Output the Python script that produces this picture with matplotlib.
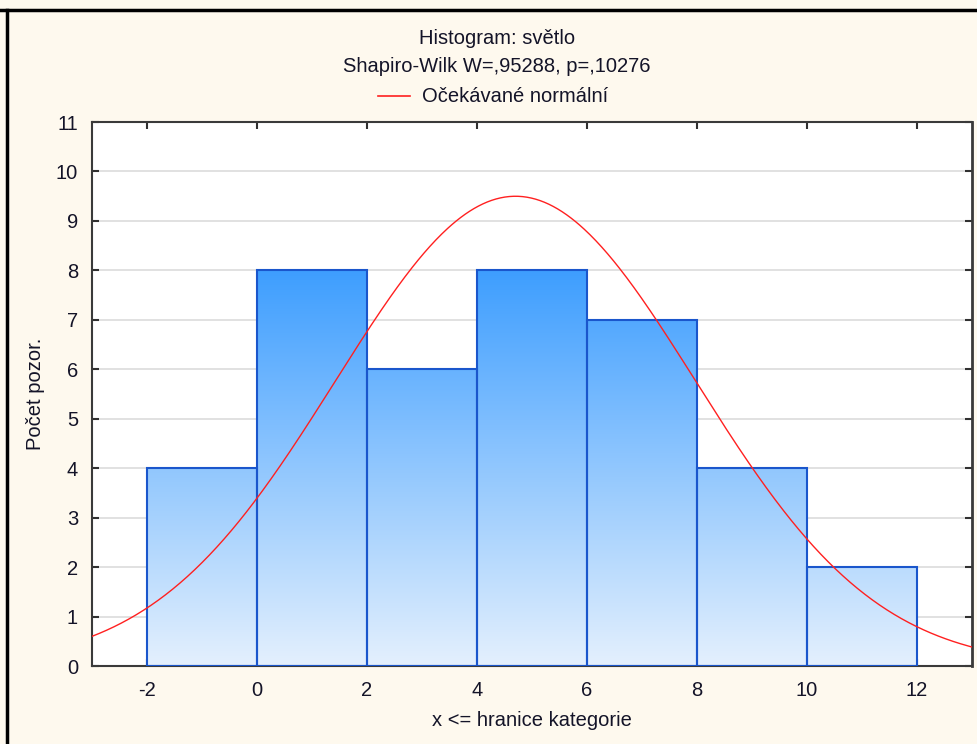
import numpy as np
import matplotlib
matplotlib.use("Agg")
import matplotlib.pyplot as plt
from matplotlib.patches import Rectangle
from matplotlib.lines import Line2D
from matplotlib.colors import LinearSegmentedColormap

plt.rcParams['font.family'] = ['Liberation Sans', 'DejaVu Sans']
plt.rcParams['axes.unicode_minus'] = False

# histogram data: class bounds (x <= upper bound) and counts
bin_edges = [-2, 0, 2, 4, 6, 8, 10, 12]
counts = [4, 8, 6, 8, 7, 4, 2]
x_ticks = [-2, 0, 2, 4, 6, 8, 10, 12]
y_ticks = list(range(0, 12))

# fitted normal distribution for the expected-count curve
fit_mean = 4.7
fit_sd = 3.276

title_lines = ["Histogram: světlo", "Shapiro-Wilk W=,95288, p=,10276"]
legend_label = "Očekávané normální"
x_label = "x <= hranice kategorie"
y_label = "Počet pozor."

FS = 14.5
TXT = "#141428"
bg = "#FEF9EE"
fig = plt.figure(figsize=(9.77, 7.44), dpi=100, facecolor=bg)
ax = fig.add_axes([92 / 977, 78 / 744, 880 / 977, 544 / 744])
ax.set_facecolor("white")

# horizontal grid
for y in y_ticks[1:-1]:
    ax.axhline(y, color="#DCDCDC", lw=1.2, zorder=1)

# vertical gradient shared by all bars (value 0 -> light, max count -> strong blue)
cmap = LinearSegmentedColormap.from_list("bars", ["#E4F0FD", "#3E9EFF"])
grad = np.linspace(0, 1, 256).reshape(-1, 1)
ymax = max(counts)
for left, right, c in zip(bin_edges[:-1], bin_edges[1:], counts):
    rect = Rectangle((left, 0), right - left, c, facecolor="none",
                     edgecolor="#1A56CC", lw=1.5, zorder=3)
    ax.add_patch(rect)
    img = ax.imshow(grad, cmap=cmap, origin="lower", aspect="auto",
                    extent=(bin_edges[0], bin_edges[-1], 0, ymax), zorder=2,
                    interpolation="bilinear")
    img.set_clip_path(rect)
ax.set_xlim(-3, 13)
ax.set_ylim(0, 11)

# expected normal counts
w = bin_edges[1] - bin_edges[0]
n = sum(counts)
xs = np.linspace(-3, 13, 600)
ys = n * w / (fit_sd * np.sqrt(2 * np.pi)) * np.exp(-0.5 * ((xs - fit_mean) / fit_sd) ** 2)
ax.plot(xs, ys, color="#FF2020", lw=1.0, zorder=4)

ax.set_xticks(x_ticks)
ax.set_yticks(y_ticks)
ax.tick_params(direction="in", length=5, width=1.5, color="#303030",
               top=True, right=True, labelsize=FS, labelcolor=TXT)
ax.tick_params(axis="y", pad=10)
ax.tick_params(axis="x", pad=11)
for s in ax.spines.values():
    s.set_color("#3A3A3A")
    s.set_linewidth(1.5)
ax.spines["right"].set_linewidth(2)
ax.set_xlabel(x_label, fontsize=FS, color=TXT, labelpad=8)
ax.set_ylabel(y_label, fontsize=FS, color=TXT, labelpad=8)

# header text and legend entry
cx = 497 / 977
fig.text(cx, 1 - 38 / 744, title_lines[0], ha="center", va="center", fontsize=FS, color=TXT)
fig.text(cx, 1 - 67 / 744, title_lines[1], ha="center", va="center", fontsize=FS, color=TXT)
fig.add_artist(Line2D([378 / 977, 410 / 977], [1 - 96 / 744] * 2, color="#FF2020", lw=1.2))
fig.text(422 / 977, 1 - 96 / 744, legend_label, ha="left", va="center", fontsize=FS, color=TXT)

# outer frame
fig.add_artist(Line2D([7 / 977, 7 / 977], [0, 1 - 10 / 744], color="black", lw=2.5))
fig.add_artist(Line2D([1 / 977, 1], [1 - 10 / 744] * 2, color="black", lw=2.5))

fig.savefig("out.png", dpi=100, facecolor=bg)
